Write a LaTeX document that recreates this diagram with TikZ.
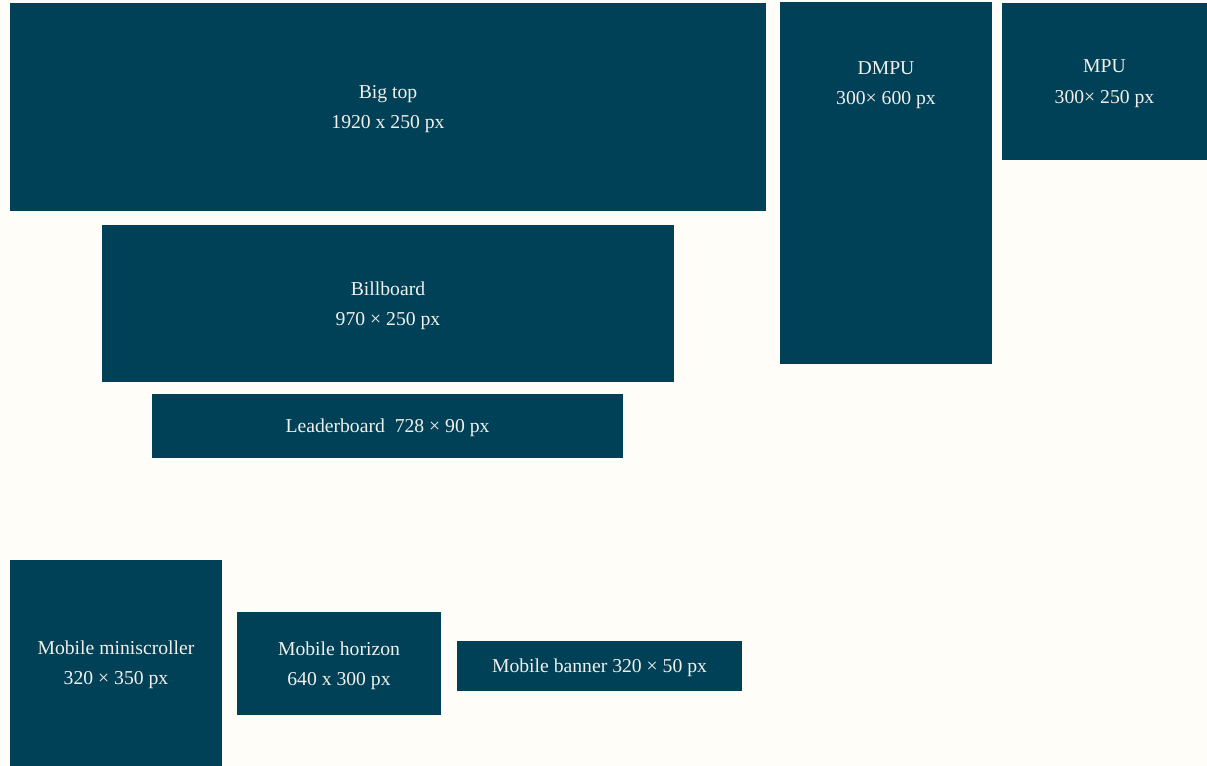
\documentclass[tikz,border=0pt]{standalone}
\usepackage{xcolor}
\usepackage{fontspec}
\setmainfont{Liberation Serif}
\usepackage{tikz}
\usetikzlibrary{positioning,calc}
\definecolor{paper}{HTML}{FFFDF8}
\definecolor{adfill}{HTML}{004158}
\definecolor{adtext}{HTML}{F2F0EA}
\newlength\px
\setlength\px{0.02cm}
\tikzset{
  adbox/.style={rectangle,fill=adfill,text=adtext,align=center,text depth=0pt,
    font=\fontsize{11.2}{17.2}\selectfont,inner sep=0pt,outer sep=0pt,anchor=north west},
  adlabel/.style={text=adtext,align=center,text depth=0pt,font=\fontsize{11.2}{17.2}\selectfont,inner sep=0pt},
}
\begin{document}
\begin{tikzpicture}[x=1\px, y=-1\px]
  \fill[paper] (0,0) rectangle (1207,766);
  \useasboundingbox (0,0) rectangle (1207,766);

  \node[adbox, minimum width=756\px, minimum height=208\px] (bigtop) at (10,3) {Big top\\1920 x 250 px};
  \node[adbox, minimum width=212\px, minimum height=362\px] (dmpu) at (780,2) {};
  \node[adlabel] (dmputxt) at ($(dmpu.north)+(0,81)$) {DMPU\\300× 600 px};
  \node[adbox, minimum width=205\px, minimum height=157\px] (mpu) at (1002,3) {MPU\\300× 250 px};

  \node[adbox, minimum width=572\px, minimum height=157\px] (billboard) at (102,225) {Billboard\\970 × 250 px};
  \node[adbox, minimum width=471\px, minimum height=64\px] (leader) at (152,394) {Leaderboard\enspace 728 × 90 px};

  \node[adbox, minimum width=212\px, minimum height=206\px] (miniscroll) at (10,560) {Mobile miniscroller\\320 × 350 px};
  \node[adbox, minimum width=204\px, minimum height=103\px] (horizon) at (237,612) {Mobile horizon\\640 x 300 px};
  \node[adbox, minimum width=285\px, minimum height=50\px] (banner) at (457,641) {Mobile banner 320 × 50 px};
\end{tikzpicture}
\end{document}
